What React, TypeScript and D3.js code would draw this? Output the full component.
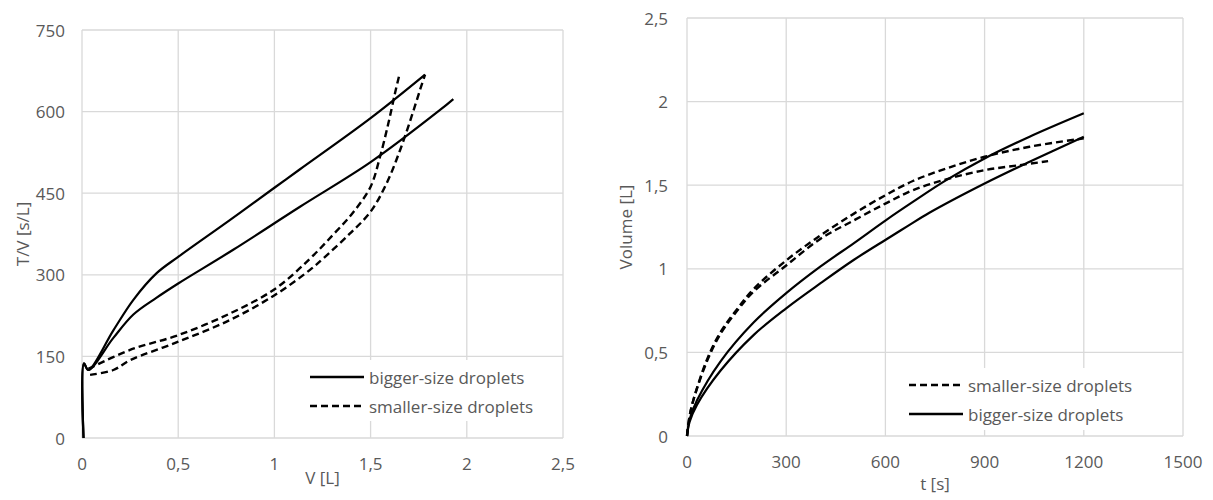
import React from 'react';
import * as d3 from 'd3';

// left panel: T/V against V
const tvBigA_V = [0.008, 0.01, 0.033, 0.163, 0.267, 0.388, 0.5, 0.77, 1.0, 1.133, 1.5, 1.783];
const tvBigA_Y = [0, 137, 125, 198, 254, 303, 333, 401, 460, 494, 588, 668];
const tvBigB_V = [0.008, 0.01, 0.033, 0.163, 0.267, 0.388, 0.5, 0.786, 1.133, 1.5, 1.861, 1.93];
const tvBigB_Y = [0, 137, 125, 184, 227, 258, 284, 346, 425, 507, 603, 623];
const tvSmallA_V = [0.033, 0.25, 0.5, 0.77, 1.003, 1.18, 1.306, 1.41, 1.5, 1.549, 1.592, 1.627, 1.649];
const tvSmallA_Y = [127, 162, 189, 229, 274, 328, 374, 415, 462, 517, 578, 634, 667];
const tvSmallB_V = [0.042, 0.163, 0.25, 0.5, 0.77, 1.003, 1.185, 1.254, 1.393, 1.5, 1.583, 1.653, 1.713, 1.757, 1.783];
const tvSmallB_Y = [116, 125, 143, 177, 217, 263, 309, 330, 376, 416, 468, 529, 591, 640, 668];

// right panel: volume against time
const volSmallA_t = [0, 8, 20, 61, 101, 152, 202, 300, 404, 505, 600, 683, 784, 900, 1036, 1200];
const volSmallA_V = [0, 0.12, 0.22, 0.46, 0.62, 0.76, 0.88, 1.05, 1.2, 1.33, 1.44, 1.525, 1.6, 1.67, 1.73, 1.78];
const volSmallB_t = [0, 8, 20, 61, 101, 152, 202, 300, 404, 505, 600, 683, 784, 900, 1006, 1092];
const volSmallB_V = [0, 0.12, 0.22, 0.45, 0.61, 0.75, 0.865, 1.02, 1.18, 1.29, 1.39, 1.47, 1.535, 1.59, 1.62, 1.644];
const volBigA_t = [0, 8, 30, 101, 202, 300, 404, 505, 601, 683, 784, 900, 1036, 1200];
const volBigA_V = [0, 0.1, 0.212, 0.445, 0.68, 0.854, 1.014, 1.154, 1.29, 1.4, 1.53, 1.66, 1.79, 1.93];
const volBigB_t = [0, 8, 30, 101, 202, 300, 404, 505, 601, 667, 733, 900, 1036, 1200];
const volBigB_V = [0, 0.085, 0.186, 0.39, 0.605, 0.764, 0.914, 1.054, 1.174, 1.255, 1.335, 1.51, 1.64, 1.79];

const leftXTicks = [0, 0.5, 1, 1.5, 2, 2.5];
const leftYTicks = [0, 150, 300, 450, 600, 750];
const rightXTicks = [0, 300, 600, 900, 1200, 1500];
const rightYTicks = [0, 0.5, 1, 1.5, 2, 2.5];

const FONT = '"Open Sans", "Noto Sans", sans-serif';
const FS = 17;
const GRID = '#d9d9d9';
const TXT = '#595959';

const fmt = (v) => String(v).replace('.', ',');
const zip = (xs, ys) => xs.map((x, i) => [x, ys[i]]);

const Panel = ({ box, xDomain, yDomain, xTicks, yTicks, xTitle, yTitle, xTitleY, yTitleX, yLabelGap, series, legend }) => {
  const x = d3.scaleLinear().domain(xDomain).range([box.left, box.right]);
  const y = d3.scaleLinear().domain(yDomain).range([box.bottom, box.top]);
  const line = d3.line().x(d => x(d[0])).y(d => y(d[1])).curve(d3.curveCatmullRom.alpha(0.5));

  return (
    <g>
      {xTicks.map(t => (
        <line key={'gx' + t} x1={x(t)} x2={x(t)} y1={box.top} y2={box.bottom} stroke={GRID} strokeWidth={1.3} />
      ))}
      {yTicks.map(t => (
        <line key={'gy' + t} x1={box.left} x2={box.right} y1={y(t)} y2={y(t)} stroke={GRID} strokeWidth={1.3} />
      ))}
      {xTicks.map(t => (
        <text key={'tx' + t} x={x(t)} y={box.bottom + 25} textAnchor="middle" dominantBaseline="central"
          fontFamily={FONT} fontSize={FS} fill={TXT}>{fmt(t)}</text>
      ))}
      {yTicks.map(t => (
        <text key={'ty' + t} x={box.left - yLabelGap} y={y(t)} textAnchor="end" dominantBaseline="central"
          fontFamily={FONT} fontSize={FS} fill={TXT}>{fmt(t)}</text>
      ))}
      <text x={(box.left + box.right) / 2} y={xTitleY} textAnchor="middle" dominantBaseline="central"
        fontFamily={FONT} fontSize={FS} fill={TXT}>{xTitle}</text>
      <text transform={`translate(${yTitleX},${(box.top + box.bottom) / 2}) rotate(-90)`} textAnchor="middle"
        dominantBaseline="central" fontFamily={FONT} fontSize={FS} fill={TXT}>{yTitle}</text>

      {series.map((s, i) => (
        <path key={'s' + i} d={line(s.data)} fill="none" stroke="#000" strokeWidth={s.dashed ? 2.4 : 2.2}
          strokeDasharray={s.dashed ? '7,4' : null} strokeLinejoin="round" />
      ))}

      <rect x={legend.x} y={legend.y} width={legend.w} height={legend.h} fill="#fff" />
      {legend.items.map((it, i) => (
        <g key={'l' + i} transform={`translate(${legend.x + 5},${legend.y + 17 + i * 29})`}>
          <line x1={0} x2={54} y1={0} y2={0} stroke="#000" strokeWidth={2.4} strokeDasharray={it.dashed ? '7,4' : null} />
          <text x={59} y={0} dominantBaseline="central" fontFamily={FONT} fontSize={FS} fill={TXT}>{it.label}</text>
        </g>
      ))}
    </g>
  );
};

const App = () => {
  const leftSeries = [
    { data: zip(tvBigA_V, tvBigA_Y), dashed: false },
    { data: zip(tvBigB_V, tvBigB_Y), dashed: false },
    { data: zip(tvSmallA_V, tvSmallA_Y), dashed: true },
    { data: zip(tvSmallB_V, tvSmallB_Y), dashed: true },
  ];
  const rightSeries = [
    { data: zip(volSmallA_t, volSmallA_V), dashed: true },
    { data: zip(volSmallB_t, volSmallB_V), dashed: true },
    { data: zip(volBigA_t, volBigA_V), dashed: false },
    { data: zip(volBigB_t, volBigB_V), dashed: false },
  ];

  return (
    <svg width={1213} height={500} style={{ position: 'absolute', left: 0, top: 0, background: '#fff' }}>
      <Panel
        box={{ left: 82, right: 563, top: 30, bottom: 438 }}
        xDomain={[0, 2.5]} yDomain={[0, 750]}
        xTicks={leftXTicks} yTicks={leftYTicks}
        xTitle="V [L]" yTitle="T/V [s/L]" xTitleY={477} yTitleX={22} yLabelGap={17}
        series={leftSeries}
        legend={{ x: 305, y: 360, w: 240, h: 61, items: [
          { label: 'bigger-size droplets', dashed: false },
          { label: 'smaller-size droplets', dashed: true },
        ] }}
      />
      <Panel
        box={{ left: 687, right: 1183, top: 18, bottom: 436 }}
        xDomain={[0, 1500]} yDomain={[0, 2.5]}
        xTicks={rightXTicks} yTicks={rightYTicks}
        xTitle="t [s]" yTitle="Volume [L]" xTitleY={483} yTitleX={625} yLabelGap={19}
        series={rightSeries}
        legend={{ x: 904, y: 368, w: 250, h: 62, items: [
          { label: 'smaller-size droplets', dashed: true },
          { label: 'bigger-size droplets', dashed: false },
        ] }}
      />
    </svg>
  );
};

export default App;
